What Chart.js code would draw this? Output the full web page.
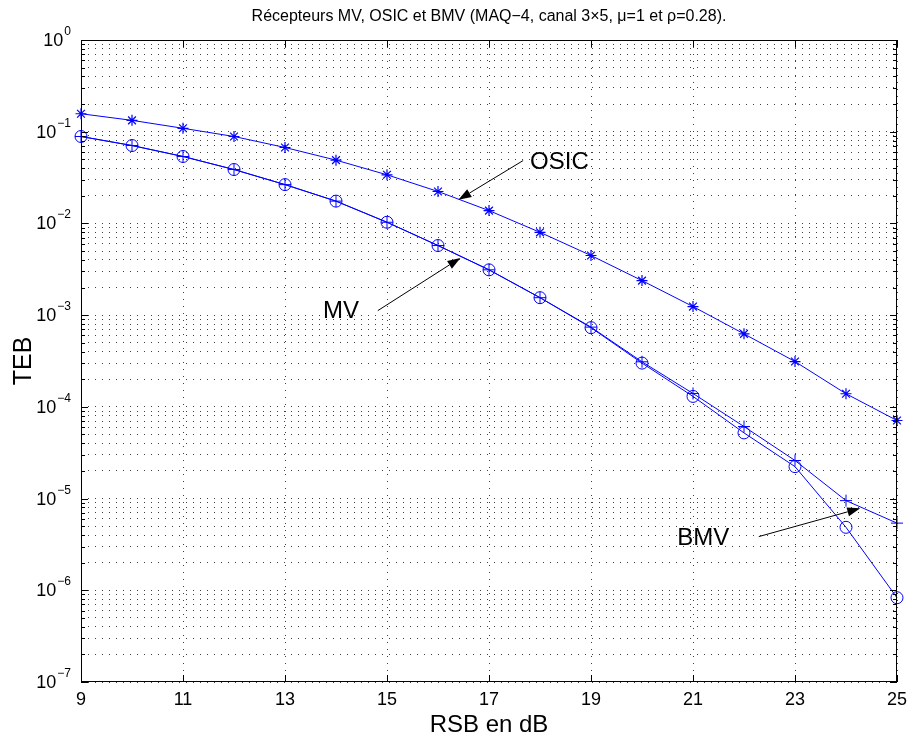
<!DOCTYPE html>
<html>
<head>
<meta charset="utf-8">
<title>TEB</title>
<script src="https://cdn.jsdelivr.net/npm/chart.js@4/dist/chart.umd.min.js"></script>
<style>
  html, body { margin: 0; padding: 0; background: #fff; }
  #wrap { width: 910px; height: 740px; }
</style>
</head>
<body>
<div id="wrap"><canvas id="teb" width="910" height="740"></canvas></div>
<script>
// RSB (dB)
const snr = [9, 10, 11, 12, 13, 14, 15, 16, 17, 18, 19, 20, 21, 22, 23, 24, 25];
// TEB values
const tebOSIC = [0.157, 0.133, 0.109, 0.0887, 0.0673, 0.049, 0.0339, 0.0223, 0.0138, 0.008, 0.00447, 0.00238, 0.00124, 6.25e-4, 3.12e-4, 1.39e-4, 7.1e-5];
const tebMV = [0.0887, 0.0707, 0.0537, 0.0387, 0.0265, 0.0175, 0.0103, 0.00574, 0.00312, 0.00155, 7.3e-4, 3.0e-4, 1.3e-4, 5.2e-5, 2.23e-5, 4.86e-6, 8.3e-7];
const tebBMV = [0.0887, 0.0707, 0.0537, 0.0387, 0.0265, 0.0175, 0.0103, 0.00574, 0.00312, 0.00155, 7.4e-4, 3.1e-4, 1.4e-4, 6.1e-5, 2.6e-5, 9.5e-6, 5.4e-6];

const xTicks = [9, 11, 13, 15, 17, 19, 21, 23, 25];
const yDecades = [-7, -6, -5, -4, -3, -2, -1, 0];

const titleText = 'Récepteurs MV, OSIC et BMV (MAQ\u22124, canal 3\u00d75, \u03bc=1 et \u03c1=0.28).';
const xTitle = 'RSB en dB';
const yTitle = 'TEB';

// annotations : label + arrow, in data coordinates
const notes = [
  { text: 'OSIC', at: [18.38, 0.0461], from: [17.67, 0.0485], to: [16.40, 0.0181] },
  { text: 'MV', at: [14.10, 1.09e-3], from: [14.82, 1.12e-3], to: [16.44, 4.21e-3] },
  { text: 'BMV', at: [21.20, 3.66e-6], from: [22.29, 3.85e-6], to: [24.28, 7.83e-6] }
];

const blue = '#0000ff';
const fam = '"Liberation Sans", Arial, Helvetica, sans-serif';

const matlabLook = {
  id: 'matlabLook',
  afterDraw(chart) {
    const ctx = chart.ctx;
    const a = chart.chartArea;
    const xs = chart.scales.x;
    const ys = chart.scales.y;
    ctx.save();

    // box
    ctx.strokeStyle = '#000';
    ctx.lineWidth = 1;
    ctx.setLineDash([]);
    ctx.strokeRect(Math.round(a.left) + 0.5, Math.round(a.top) + 0.5,
      Math.round(a.right - a.left) - 1, Math.round(a.bottom - a.top) - 1);

    // inner ticks
    ctx.beginPath();
    ys.ticks.forEach(t => {
      const y = Math.round(ys.getPixelForValue(t.value)) + 0.5;
      const len = t.major ? 7 : 4;
      ctx.moveTo(a.left, y); ctx.lineTo(a.left + len, y);
      ctx.moveTo(a.right, y); ctx.lineTo(a.right - len, y);
    });
    xs.ticks.forEach(t => {
      const x = Math.round(xs.getPixelForValue(t.value)) + 0.5;
      ctx.moveTo(x, a.bottom); ctx.lineTo(x, a.bottom - 7);
      ctx.moveTo(x, a.top); ctx.lineTo(x, a.top + 7);
    });
    ctx.stroke();

    ctx.fillStyle = '#000';

    // x tick labels
    ctx.font = '18px ' + fam;
    ctx.textAlign = 'center';
    ctx.textBaseline = 'alphabetic';
    xs.ticks.forEach(t => {
      ctx.fillText(String(t.value), xs.getPixelForValue(t.value), a.bottom + 23);
    });

    // y tick labels 10^n
    ctx.textAlign = 'left';
    yDecades.forEach(e => {
      const y = ys.getPixelForValue(Math.pow(10, e));
      const ex = e < 0 ? '\u2212' + (-e) : String(e);
      ctx.font = '18px ' + fam;
      const w1 = ctx.measureText('10').width;
      ctx.font = '12px ' + fam;
      const w2 = ctx.measureText(ex).width;
      const x0 = a.left - 11 - w1 - w2;
      ctx.font = '18px ' + fam;
      ctx.fillText('10', x0, y + 6);
      ctx.font = '12px ' + fam;
      ctx.fillText(ex, x0 + w1 + 1, y - 5);
    });

    // titles
    const cx = (a.left + a.right) / 2;
    ctx.textAlign = 'center';
    ctx.font = '16px ' + fam;
    ctx.fillText(titleText, cx, 21);
    ctx.font = '24px ' + fam;
    ctx.fillText(xTitle, cx, a.bottom + 50);
    ctx.save();
    ctx.translate(31, (a.top + a.bottom) / 2);
    ctx.rotate(-Math.PI / 2);
    ctx.font = '25px ' + fam;
    ctx.fillText(yTitle, 0, 0);
    ctx.restore();

    // annotations
    notes.forEach(n => {
      const tx = xs.getPixelForValue(n.at[0]), ty = ys.getPixelForValue(n.at[1]);
      ctx.font = '24px ' + fam;
      ctx.textAlign = 'center';
      ctx.textBaseline = 'middle';
      ctx.fillText(n.text, tx, ty);
      const x1 = xs.getPixelForValue(n.from[0]), y1 = ys.getPixelForValue(n.from[1]);
      const x2 = xs.getPixelForValue(n.to[0]), y2 = ys.getPixelForValue(n.to[1]);
      const ang = Math.atan2(y2 - y1, x2 - x1);
      const hl = 13, hw = 4.5;
      const bx = x2 - hl * Math.cos(ang), by = y2 - hl * Math.sin(ang);
      ctx.strokeStyle = '#000';
      ctx.lineWidth = 1;
      ctx.beginPath();
      ctx.moveTo(x1, y1); ctx.lineTo(bx, by);
      ctx.stroke();
      ctx.beginPath();
      ctx.moveTo(x2, y2);
      ctx.lineTo(bx + hw * Math.sin(ang), by - hw * Math.cos(ang));
      ctx.lineTo(bx - hw * Math.sin(ang), by + hw * Math.cos(ang));
      ctx.closePath();
      ctx.fill();
    });
    ctx.restore();
  }
};

const gridLook = {
  color: 'rgba(0,0,0,0.75)',
  lineWidth: 1,
  drawTicks: false
};

new Chart(document.getElementById('teb'), {
  type: 'line',
  data: {
    labels: snr,
    datasets: [
      { label: 'OSIC', data: snr.map((x, i) => ({ x: x, y: tebOSIC[i] })), borderColor: blue, backgroundColor: 'rgba(0,0,0,0)',
        borderWidth: 1, pointStyle: 'star', pointRadius: 5.5, pointBorderWidth: 1.2, pointBorderColor: blue, clip: false },
      { label: 'MV', data: snr.map((x, i) => ({ x: x, y: tebMV[i] })), borderColor: blue, backgroundColor: 'rgba(0,0,0,0)',
        borderWidth: 1, pointStyle: 'circle', pointRadius: 6, pointBorderWidth: 1, pointBorderColor: blue, clip: false },
      { label: 'BMV', data: snr.map((x, i) => ({ x: x, y: tebBMV[i] })), borderColor: blue, backgroundColor: 'rgba(0,0,0,0)',
        borderWidth: 1, pointStyle: 'cross', pointRadius: 6, pointBorderWidth: 1, pointBorderColor: blue, clip: false }
    ]
  },
  options: {
    responsive: false,
    animation: false,
    devicePixelRatio: 1,
    layout: { padding: { top: 40, right: 13, left: 0, bottom: 0 } },
    plugins: { legend: { display: false }, title: { display: false }, tooltip: { enabled: false } },
    elements: { line: { tension: 0 } },
    scales: {
      x: {
        type: 'linear', min: 9, max: 25,
        ticks: { display: false },
        grid: gridLook,
        border: { display: false, dash: [1, 6] },
        afterBuildTicks: s => { s.ticks = xTicks.map(v => ({ value: v })); },
        afterFit: s => { s.height = 58; }
      },
      y: {
        type: 'logarithmic', min: 1e-7, max: 1,
        ticks: { display: false },
        grid: gridLook,
        border: { display: false, dash: [1, 6] },
        afterBuildTicks: s => {
          const t = [];
          yDecades.forEach(e => {
            for (let m = 1; m <= 9; m++) {
              if (e === 0 && m > 1) break;
              t.push({ value: m * Math.pow(10, e), major: m === 1 });
            }
          });
          s.ticks = t;
        },
        afterFit: s => { s.width = 81; }
      }
    }
  },
  plugins: [matlabLook]
});
</script>
</body>
</html>
